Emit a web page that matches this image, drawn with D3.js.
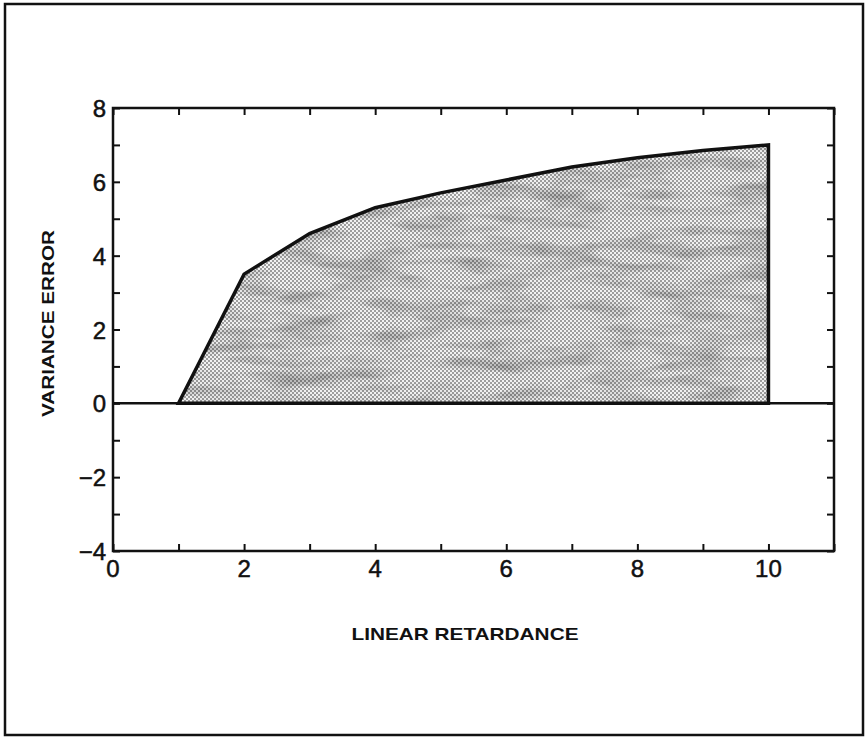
<!DOCTYPE html>
<html>
<head>
<meta charset="utf-8">
<script src="https://cdn.jsdelivr.net/npm/d3@7"></script>
<style>
  html, body { margin: 0; padding: 0; background: #fff; }
  svg { display: block; }
  text { font-family: "Liberation Sans", Arial, Helvetica, sans-serif; fill: #111; }
</style>
</head>
<body>
<svg id="chart" width="866" height="737"></svg>
<script>
// Error envelope of variance vs. linear retardance
const retardance = [1, 2, 3, 4, 5, 6, 7, 8, 9, 10, 10];
const varianceError = [0, 3.5, 4.6, 5.3, 5.7, 6.05, 6.4, 6.65, 6.85, 7.0, 0];
const xTickLabels = [0, 2, 4, 6, 8, 10];
const yTickLabels = [-4, -2, 0, 2, 4, 6, 8];
const xDomain = [0, 11];
const yDomain = [-4, 8];
const xTitle = "LINEAR RETARDANCE";
const yTitle = "VARIANCE ERROR";

const svg = d3.select("#chart");
const W = 866, H = 737;
const margin = { left: 113, right: W - 834, top: 108, bottom: H - 551 };
const innerW = W - margin.left - margin.right;
const innerH = H - margin.top - margin.bottom;

const x = d3.scaleLinear().domain(xDomain).range([margin.left, margin.left + innerW]);
const y = d3.scaleLinear().domain(yDomain).range([margin.top + innerH, margin.top]);

// outer frame
svg.append("rect")
  .attr("x", 5).attr("y", 4).attr("width", W - 8).attr("height", H - 6)
  .attr("fill", "none").attr("stroke", "#111").attr("stroke-width", 2.5);

// halftone stipple fill with mottled density
const defs = svg.append("defs");
const pat = defs.append("pattern")
  .attr("id", "dots").attr("width", 4).attr("height", 4)
  .attr("patternUnits", "userSpaceOnUse");
pat.append("rect").attr("width", 4).attr("height", 4).attr("fill", "#f2f2f2");
pat.append("rect").attr("x", 0).attr("y", 0).attr("width", 2).attr("height", 2).attr("fill", "#9e9e9e");
pat.append("rect").attr("x", 2).attr("y", 2).attr("width", 2).attr("height", 2).attr("fill", "#9e9e9e");

const mottle = defs.append("filter").attr("id", "mottle")
  .attr("x", 0).attr("y", 0).attr("width", 1).attr("height", 1);
mottle.append("feTurbulence")
  .attr("type", "fractalNoise").attr("baseFrequency", "0.015 0.07")
  .attr("numOctaves", 3).attr("seed", 11).attr("result", "noise");
mottle.append("feColorMatrix")
  .attr("in", "noise").attr("type", "matrix")
  .attr("values", "0 0 0 0 0  0 0 0 0 0  0 0 0 0 0  1.8 0 0 0 -0.75")
  .attr("result", "shade");
mottle.append("feComposite").attr("in", "shade").attr("in2", "SourceGraphic").attr("operator", "in");

const area = d3.line().x((d, i) => x(retardance[i])).y(d => y(d));
const pathD = area(varianceError) + "Z";

defs.append("clipPath").attr("id", "envClip").append("path").attr("d", pathD);

svg.append("path").attr("d", pathD).attr("fill", "url(#dots)");
svg.append("rect")
  .attr("clip-path", "url(#envClip)")
  .attr("x", x(1)).attr("y", y(7.2))
  .attr("width", x(10) - x(1)).attr("height", y(0) - y(7.2))
  .attr("fill", "#000").attr("opacity", 0.3)
  .attr("filter", "url(#mottle)");

// envelope outline
svg.append("path").attr("d", pathD)
  .attr("fill", "none").attr("stroke", "#111").attr("stroke-width", 3.5)
  .attr("stroke-linejoin", "miter");

// zero reference line
svg.append("line")
  .attr("x1", x(xDomain[0])).attr("x2", x(xDomain[1]))
  .attr("y1", y(0)).attr("y2", y(0))
  .attr("stroke", "#111").attr("stroke-width", 2.5);

// axes: inward ticks every unit on all four sides
const tickLen = 7;
const xTicks = d3.range(xDomain[0], xDomain[1] + 1);
const yTicks = d3.range(yDomain[0], yDomain[1] + 1);
const fmt = d => (d < 0 ? "\u2212" + Math.abs(d) : String(d));

function styleAxis(g) {
  g.select(".domain").remove();
  g.selectAll(".tick line").attr("stroke", "#111").attr("stroke-width", 2);
  g.selectAll("text").remove();
}

svg.append("g").attr("transform", `translate(0,${y(yDomain[0])})`)
  .call(d3.axisTop(x).tickValues(xTicks).tickSize(tickLen)).call(styleAxis);
svg.append("g").attr("transform", `translate(0,${y(yDomain[1])})`)
  .call(d3.axisBottom(x).tickValues(xTicks).tickSize(tickLen)).call(styleAxis);
svg.append("g").attr("transform", `translate(${x(xDomain[0])},0)`)
  .call(d3.axisRight(y).tickValues(yTicks).tickSize(tickLen)).call(styleAxis);
svg.append("g").attr("transform", `translate(${x(xDomain[1])},0)`)
  .call(d3.axisLeft(y).tickValues(yTicks).tickSize(tickLen)).call(styleAxis);

// frame of the plot
svg.append("rect")
  .attr("x", x(xDomain[0])).attr("y", y(yDomain[1]))
  .attr("width", x(xDomain[1]) - x(xDomain[0])).attr("height", y(yDomain[0]) - y(yDomain[1]))
  .attr("fill", "none").attr("stroke", "#111").attr("stroke-width", 2.5);

// tick labels
svg.append("g").selectAll("text").data(xTickLabels).join("text")
  .attr("x", d => x(d)).attr("y", y(yDomain[0]) + 26)
  .attr("text-anchor", "middle").attr("font-size", 24)
  .attr("stroke", "#111").attr("stroke-width", 0.5)
  .text(fmt);
svg.append("g").selectAll("text").data(yTickLabels).join("text")
  .attr("x", x(xDomain[0]) - 7).attr("y", d => y(d) + 9)
  .attr("text-anchor", "end").attr("font-size", 24)
  .attr("stroke", "#111").attr("stroke-width", 0.5)
  .text(fmt);

// axis titles
svg.append("text")
  .attr("x", 465).attr("y", 640)
  .attr("text-anchor", "middle").attr("font-size", 17).attr("font-weight", "bold")
  .attr("textLength", 227).attr("lengthAdjust", "spacingAndGlyphs")
  .text(xTitle);
svg.append("text")
  .attr("transform", `translate(54,${(230 + 417) / 2}) rotate(-90)`)
  .attr("text-anchor", "middle").attr("font-size", 17).attr("font-weight", "bold")
  .attr("textLength", 187).attr("lengthAdjust", "spacingAndGlyphs")
  .text(yTitle);
</script>
</body>
</html>
